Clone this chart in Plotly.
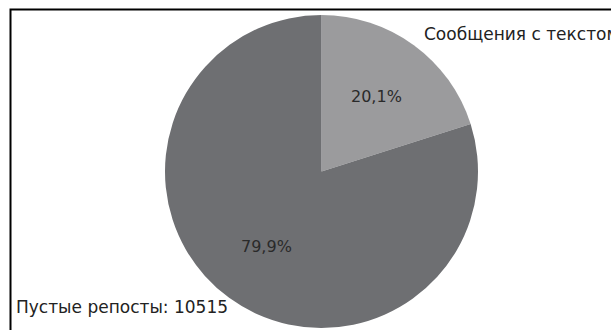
import math
import plotly.graph_objects as go

labels = ["Сообщения с текстом", "Пустые репосты"]
values = [2645, 10515]
colors = ["#9b9b9d", "#6e6f72"]

W, H = 611, 330
# pie placement (pixels)
PX0, PX1, PY0, PY1 = 165, 478, 15, 328
CX, CY = (PX0 + PX1) / 2, (PY0 + PY1) / 2
R = min(PX1 - PX0, PY1 - PY0) / 2

fig = go.Figure(go.Pie(
    labels=labels,
    values=values,
    sort=False,
    direction="clockwise",
    rotation=0,
    marker=dict(colors=colors, line=dict(width=0)),
    textinfo="none",
    showlegend=False,
    hoverinfo="label+value+percent",
    domain=dict(x=[PX0 / W, PX1 / W], y=[1 - PY1 / H, 1 - PY0 / H]),
))

# percentage labels at 0.59 R along each slice's mid-angle
total = sum(values)
cum = 0
for v in values:
    mid = (cum + v / 2) / total * 2 * math.pi
    cum += v
    px = CX + 0.59 * R * math.sin(mid)
    py = CY - 0.59 * R * math.cos(mid)
    fig.add_annotation(
        x=px / W, y=1 - py / H, xref="paper", yref="paper",
        xanchor="center", yanchor="middle", showarrow=False,
        text=f"{100 * v / total:.1f}".replace(".", ",") + "%",
        font=dict(family="DejaVu Sans", size=16, color="#2a2a2a"),
    )

fig.add_annotation(
    x=422 / W, y=1 - 34 / H, xref="paper", yref="paper",
    xanchor="left", yanchor="middle", showarrow=False,
    text=f"{labels[0]}: {values[0]}",
    font=dict(family="DejaVu Sans", size=17, color="#222222"),
)
fig.add_annotation(
    x=14 / W, y=1 - 307 / H, xref="paper", yref="paper",
    xanchor="left", yanchor="middle", showarrow=False,
    text=f"{labels[1]}: {values[1]}",
    font=dict(family="DejaVu Sans", size=17, color="#222222"),
)

fig.add_shape(
    type="rect", xref="paper", yref="paper",
    x0=10.5 / W, x1=1.2, y0=-0.2, y1=1 - 9.5 / H,
    line=dict(color="black", width=2),
)

fig.update_layout(
    width=W, height=H,
    margin=dict(l=0, r=0, t=0, b=0),
    paper_bgcolor="white",
    plot_bgcolor="white",
)

fig.write_html("out.html")
